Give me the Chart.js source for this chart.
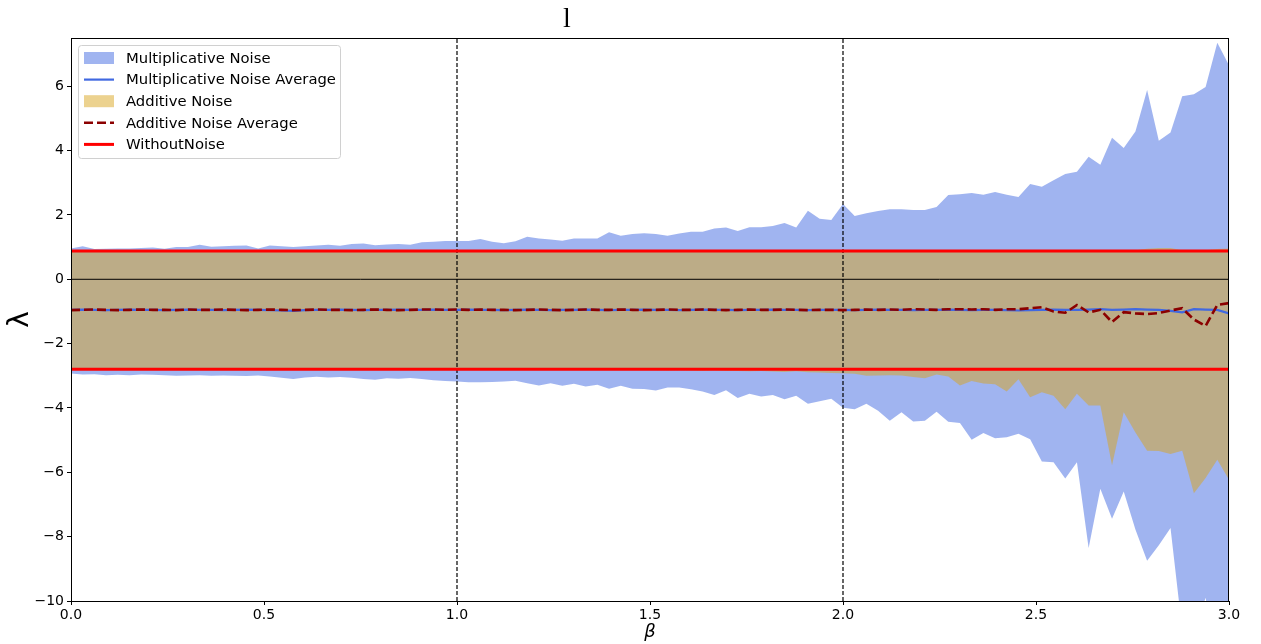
<!DOCTYPE html>
<html>
<head>
<meta charset="utf-8">
<script src="https://cdn.jsdelivr.net/npm/chart.js@4.4.1/dist/chart.umd.min.js"></script>
<style>
  body { margin: 0; background: #fff; }
  #wrap { width: 1261px; height: 644px; position: relative; }
</style>
</head>
<body>
<div id="wrap"><canvas id="chart"></canvas></div>
<script>
// beta grid: 100 samples between 0 and 3
const BETA = Array.from({ length: 100 }, (_, i) => i * 3 / 99);

const MULT_UPPER = [
  0.96, 1.03, 0.94, 0.95, 0.96, 0.96, 0.97, 0.99, 0.95, 1.00,
  1.00, 1.07, 1.01, 1.03, 1.04, 1.05, 0.96, 1.05, 1.03, 1.00,
  1.03, 1.05, 1.07, 1.04, 1.10, 1.11, 1.06, 1.08, 1.10, 1.07,
  1.15, 1.17, 1.19, 1.19, 1.19, 1.25, 1.17, 1.12, 1.18, 1.32,
  1.27, 1.24, 1.20, 1.27, 1.27, 1.27, 1.46, 1.35, 1.41, 1.43,
  1.41, 1.35, 1.42, 1.48, 1.48, 1.58, 1.61, 1.50, 1.62, 1.62,
  1.66, 1.75, 1.61, 2.13, 1.88, 1.84, 2.34, 1.97, 2.05, 2.12,
  2.18, 2.18, 2.15, 2.15, 2.25, 2.62, 2.64, 2.68, 2.63, 2.71,
  2.63, 2.56, 2.96, 2.88, 3.08, 3.27, 3.34, 3.81, 3.56, 4.40,
  4.08, 4.59, 5.88, 4.31, 4.56, 5.69, 5.75, 5.98, 7.35, 6.65
];

const MULT_LOWER = [
  -2.93, -2.96, -2.95, -2.98, -2.97, -2.98, -2.96, -2.97, -2.98, -3.00,
  -2.99, -2.98, -3.00, -2.99, -3.00, -3.01, -2.99, -3.02, -3.06, -3.10,
  -3.05, -3.03, -3.05, -3.04, -3.06, -3.10, -3.12, -3.08, -3.09, -3.07,
  -3.10, -3.14, -3.16, -3.18, -3.20, -3.20, -3.19, -3.18, -3.15, -3.23,
  -3.30, -3.23, -3.31, -3.25, -3.33, -3.28, -3.40, -3.31, -3.40, -3.41,
  -3.46, -3.36, -3.36, -3.42, -3.49, -3.60, -3.45, -3.69, -3.56, -3.64,
  -3.60, -3.73, -3.62, -3.87, -3.79, -3.71, -3.99, -4.04, -3.87, -4.09,
  -4.40, -4.13, -4.42, -4.40, -4.12, -4.43, -4.47, -4.99, -4.78, -4.94,
  -4.91, -4.80, -4.97, -5.66, -5.69, -6.19, -5.69, -8.35, -6.51, -7.44,
  -6.60, -7.78, -8.75, -8.27, -7.73, -10.9, -11.0, -9.9, -12.0, -12.0
];

const MULT_AVG = [
  -0.95, -0.94, -0.95, -0.96, -0.95, -0.94, -0.95, -0.95, -0.96, -0.95,
  -0.94, -0.95, -0.95, -0.96, -0.95, -0.94, -0.95, -0.96, -0.97, -0.98,
  -0.96, -0.95, -0.95, -0.94, -0.95, -0.96, -0.95, -0.95, -0.94, -0.95,
  -0.95, -0.94, -0.95, -0.95, -0.94, -0.95, -0.95, -0.96, -0.95, -0.94,
  -0.95, -0.96, -0.95, -0.95, -0.94, -0.95, -0.96, -0.95, -0.95, -0.94,
  -0.95, -0.95, -0.96, -0.95, -0.94, -0.95, -0.95, -0.96, -0.95, -0.95,
  -0.94, -0.95, -0.95, -0.96, -0.95, -0.95, -0.95, -0.96, -0.95, -0.94,
  -0.95, -0.95, -0.96, -0.95, -0.95, -0.94, -0.95, -0.96, -0.95, -0.95,
  -0.96, -0.97, -0.96, -0.95, -0.94, -0.95, -0.95, -0.94, -0.93, -0.95,
  -0.94, -0.93, -0.94, -0.95, -0.98, -1.03, -0.93, -0.94, -0.95, -1.06
];

const ADD_UPPER = [
  0.87, 0.87, 0.88, 0.87, 0.87, 0.88, 0.87, 0.87, 0.87, 0.88,
  0.87, 0.87, 0.88, 0.87, 0.87, 0.87, 0.88, 0.87, 0.87, 0.87,
  0.88, 0.87, 0.87, 0.87, 0.88, 0.87, 0.87, 0.87, 0.88, 0.87,
  0.87, 0.88, 0.87, 0.87, 0.87, 0.88, 0.87, 0.87, 0.87, 0.88,
  0.87, 0.87, 0.88, 0.87, 0.87, 0.87, 0.88, 0.87, 0.87, 0.87,
  0.88, 0.87, 0.87, 0.87, 0.88, 0.87, 0.87, 0.87, 0.88, 0.87,
  0.87, 0.88, 0.87, 0.87, 0.87, 0.88, 0.87, 0.87, 0.87, 0.88,
  0.87, 0.87, 0.88, 0.87, 0.87, 0.87, 0.88, 0.87, 0.87, 0.87,
  0.88, 0.87, 0.87, 0.87, 0.88, 0.87, 0.88, 0.87, 0.88, 0.89,
  0.88, 0.90, 0.95, 0.97, 0.97, 0.90, 0.88, 0.90, 0.94, 0.96
];

const ADD_LOWER = [
  -2.81, -2.81, -2.82, -2.81, -2.81, -2.82, -2.81, -2.81, -2.82, -2.81,
  -2.81, -2.82, -2.81, -2.81, -2.82, -2.81, -2.81, -2.82, -2.81, -2.81,
  -2.82, -2.81, -2.81, -2.82, -2.81, -2.81, -2.82, -2.81, -2.81, -2.82,
  -2.81, -2.81, -2.82, -2.81, -2.81, -2.82, -2.81, -2.82, -2.81, -2.81,
  -2.82, -2.81, -2.82, -2.81, -2.82, -2.81, -2.82, -2.82, -2.81, -2.82,
  -2.82, -2.83, -2.82, -2.83, -2.84, -2.83, -2.84, -2.85, -2.86, -2.85,
  -2.87, -2.88, -2.86, -2.89, -2.90, -2.91, -2.92, -2.94, -3.00, -2.99,
  -2.98, -2.99, -3.04, -3.08, -2.96, -3.02, -3.30, -3.16, -3.24, -3.26,
  -3.49, -3.11, -3.67, -3.51, -3.62, -4.04, -3.56, -3.92, -3.92, -5.78,
  -4.13, -4.76, -5.33, -5.34, -5.43, -5.33, -6.65, -6.18, -5.61, -6.23
];

const ADD_AVG = [
  -0.96, -0.95, -0.94, -0.95, -0.96, -0.95, -0.94, -0.95, -0.95, -0.96,
  -0.94, -0.95, -0.95, -0.94, -0.95, -0.96, -0.95, -0.94, -0.95, -0.96,
  -0.95, -0.94, -0.95, -0.95, -0.96, -0.95, -0.94, -0.95, -0.96, -0.95,
  -0.94, -0.94, -0.95, -0.94, -0.95, -0.94, -0.95, -0.95, -0.96, -0.95,
  -0.94, -0.95, -0.96, -0.95, -0.94, -0.95, -0.95, -0.94, -0.95, -0.96,
  -0.95, -0.94, -0.95, -0.95, -0.94, -0.95, -0.96, -0.95, -0.94, -0.95,
  -0.95, -0.94, -0.95, -0.96, -0.95, -0.95, -0.96, -0.95, -0.94, -0.95,
  -0.94, -0.95, -0.93, -0.94, -0.95, -0.93, -0.93, -0.94, -0.93, -0.95,
  -0.93, -0.93, -0.90, -0.87, -1.00, -1.04, -0.80, -1.03, -0.95, -1.33,
  -1.02, -1.06, -1.08, -1.05, -0.97, -0.90, -1.25, -1.45, -0.80, -0.74
];

const WITHOUT_NOISE = [0.88, -2.80];
const VLINES = [1, 2];
const X_TICKS = [0, 0.5, 1, 1.5, 2, 2.5, 3];
const Y_TICKS = [-10, -8, -6, -4, -2, 0, 2, 4, 6];

const COLORS = {
    multFill: 'rgba(65, 105, 225, 0.5)',
    multLine: '#4169e1',
    addFill: 'rgba(218, 165, 32, 0.5)',
    addLine: '#8b0000',
    noNoise: '#ff0000'
};

function series(values) {
    return BETA.map((x, i) => ({ x: x, y: values[i] }));
}

function hline(y) {
    return [{ x: 0, y: y }, { x: 3, y: y }];
}

function vline(x) {
    return [{ x: x, y: -10 }, { x: x, y: 7.5 }];
}

const base = { pointRadius: 0, pointHoverRadius: 0, tension: 0 };

const datasets = [
    { ...base, label: 'Multiplicative Noise', data: series(MULT_UPPER), borderWidth: 0,
      backgroundColor: COLORS.multFill, fill: '+1', order: 10 },
    { ...base, label: 'mult-lower', data: series(MULT_LOWER), borderWidth: 0, fill: false, order: 10 },
    { ...base, label: 'Additive Noise', data: series(ADD_UPPER), borderWidth: 0,
      backgroundColor: COLORS.addFill, fill: '+1', order: 9 },
    { ...base, label: 'add-lower', data: series(ADD_LOWER), borderWidth: 0, fill: false, order: 9 },
    { ...base, label: 'zero', data: hline(0), borderColor: '#000', borderWidth: 1, fill: false, order: 8 }
];

VLINES.forEach(x => {
    datasets.push({ ...base, label: 'v' + x, data: vline(x), borderColor: '#000',
        borderWidth: 1.2, borderDash: [4, 2], fill: false, order: 7 });
});

datasets.push(
    { ...base, label: 'Multiplicative Noise Average', data: series(MULT_AVG),
      borderColor: COLORS.multLine, borderWidth: 2.2, fill: false, order: 5 },
    { ...base, label: 'Additive Noise Average', data: series(ADD_AVG),
      borderColor: COLORS.addLine, borderWidth: 2.6, borderDash: [9, 4], fill: false, order: 4 }
);

WITHOUT_NOISE.forEach((y, i) => {
    datasets.push({ ...base, label: i === 0 ? 'WithoutNoise' : 'without-' + i, data: hline(y),
        borderColor: COLORS.noNoise, borderWidth: 3, fill: false, order: 3 });
});

// legend entries, in the reference order
const LEGEND_ITEMS = [
    { label: 'Multiplicative Noise', kind: 'fill', color: COLORS.multFill },
    { label: 'Multiplicative Noise Average', kind: 'line', color: COLORS.multLine, width: 2.2 },
    { label: 'Additive Noise', kind: 'fill', color: COLORS.addFill },
    { label: 'Additive Noise Average', kind: 'line', color: COLORS.addLine, width: 2.6, dash: [9, 4] },
    { label: 'WithoutNoise', kind: 'line', color: COLORS.noNoise, width: 3 }
];

const decorations = {
    id: 'decorations',
    afterDraw(chart) {
        const ctx = chart.ctx;
        const area = chart.chartArea;
        ctx.save();

        // plot frame
        ctx.strokeStyle = '#000';
        ctx.lineWidth = 1;
        ctx.strokeRect(area.left + 0.5, area.top + 0.5, area.right - area.left - 1, area.bottom - area.top);

        // title
        ctx.fillStyle = '#000';
        ctx.font = '28px "Liberation Serif", "DejaVu Serif", serif';
        ctx.textAlign = 'center';
        ctx.textBaseline = 'alphabetic';
        ctx.fillText('l', 567, 27);

        // legend box
        const x0 = 78, y0 = 45, w = 262, h = 113;
        ctx.fillStyle = 'rgba(255,255,255,0.85)';
        ctx.strokeStyle = '#d0d0d0';
        ctx.lineWidth = 1;
        ctx.beginPath();
        ctx.roundRect(x0 + 0.5, y0 + 0.5, w, h, 3);
        ctx.fill();
        ctx.stroke();

        ctx.font = '14.8px "DejaVu Sans", sans-serif';
        ctx.textAlign = 'left';
        ctx.textBaseline = 'middle';
        LEGEND_ITEMS.forEach((item, i) => {
            const cy = 58 + i * 21.6;
            if (item.kind === 'fill') {
                ctx.fillStyle = item.color;
                ctx.fillRect(84, cy - 6, 30, 12);
            } else {
                ctx.strokeStyle = item.color;
                ctx.lineWidth = item.width;
                ctx.setLineDash(item.dash || []);
                ctx.beginPath();
                ctx.moveTo(84, cy);
                ctx.lineTo(114, cy);
                ctx.stroke();
                ctx.setLineDash([]);
            }
            ctx.fillStyle = '#000';
            ctx.fillText(item.label, 126, cy + 1);
        });
        ctx.restore();
    }
};

new Chart(document.getElementById('chart'), {
    type: 'line',
    data: { datasets: datasets },
    options: {
        responsive: true,
        maintainAspectRatio: false,
        animation: false,
        events: [],
        layout: { padding: { top: 38, right: 32, left: 0, bottom: 0 } },
        plugins: {
            legend: { display: false },
            tooltip: { enabled: false }
        },
        scales: {
            x: {
                type: 'linear',
                min: 0,
                max: 3,
                afterFit: (scale) => { scale.height = 43; },
                afterBuildTicks: (scale) => { scale.ticks = X_TICKS.map(v => ({ value: v })); },
                ticks: {
                    color: '#000',
                    font: { family: 'DejaVu Sans', size: 14 },
                    padding: 2,
                    maxRotation: 0,
                    callback: (v) => Number(v).toFixed(1)
                },
                grid: { drawOnChartArea: false, drawTicks: true, tickLength: 4, color: '#000' },
                border: { display: true, color: '#000', width: 1 },
                title: {
                    display: true,
                    text: 'β',
                    color: '#000',
                    font: { family: 'DejaVu Sans', size: 18, style: 'italic' },
                    padding: { top: 0, bottom: 1 }
                }
            },
            y: {
                min: -10,
                max: 7.5,
                afterFit: (scale) => { scale.width = 71; },
                afterBuildTicks: (scale) => { scale.ticks = Y_TICKS.map(v => ({ value: v })); },
                ticks: {
                    color: '#000',
                    font: { family: 'DejaVu Sans', size: 14 },
                    padding: 3,
                    callback: (v) => (v < 0 ? '\u2212' + Math.abs(v) : String(v))
                },
                grid: { drawOnChartArea: false, drawTicks: true, tickLength: 4, color: '#000' },
                border: { display: true, color: '#000', width: 1 },
                title: {
                    display: true,
                    text: 'λ',
                    color: '#000',
                    font: { family: 'DejaVu Sans', size: 28 },
                    padding: { top: 4, bottom: 0 }
                }
            }
        }
    },
    plugins: [decorations]
});
</script>
</body>
</html>
